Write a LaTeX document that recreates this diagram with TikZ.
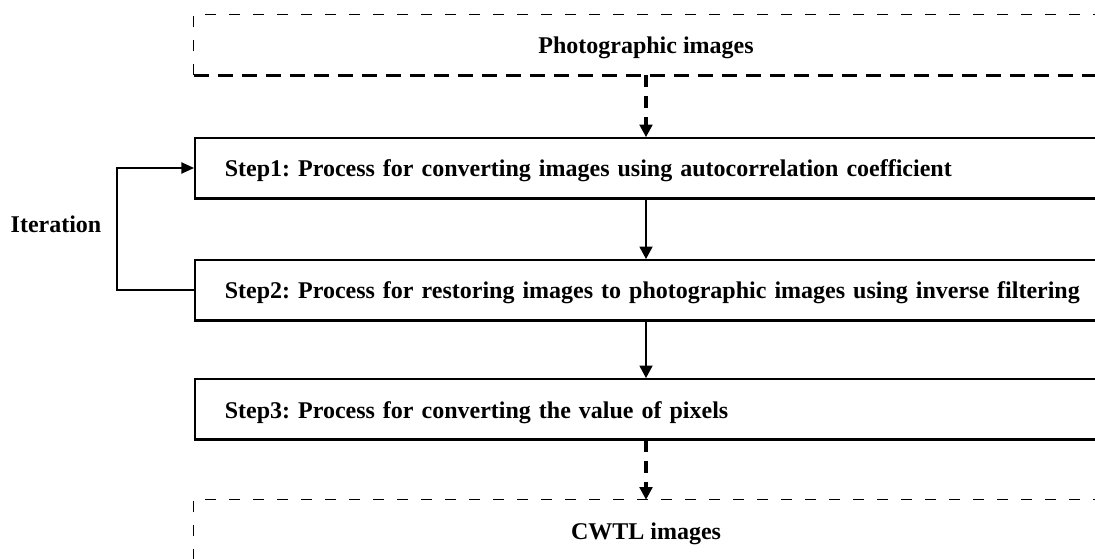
\documentclass[tikz,border=0pt]{standalone}
\usepackage{fontspec}
\setmainfont{Liberation Serif}
\usetikzlibrary{arrows.meta}
\frenchspacing
\tikzset{
  lbl/.style={font=\bfseries\fontsize{18pt}{21pt}\selectfont, inner sep=0pt},
  stepbox/.style={draw, line width=1.2pt, minimum height=45pt, anchor=west,
    text width=680pt, inner xsep=22.5pt, align=left, text height=13.5pt, text depth=0pt,
    font=\bfseries\fontsize{18pt}{21pt}\selectfont},
  ghostbox/.style={minimum width=678pt, minimum height=45pt, inner sep=0pt,
    text height=13.5pt, text depth=0pt, font=\bfseries\fontsize{18pt}{21pt}\selectfont},
  thinedge/.style={line width=1pt, dash pattern=on 8.25pt off 9.75pt},
  thickedge/.style={line width=2.25pt, dash pattern=on 11.25pt off 6.75pt},
  flow/.style={line width=2.1pt, -{Triangle[length=9.5pt,width=9.5pt]}},
  dflow/.style={line width=2.4pt, dash pattern=on 9pt off 6.75pt, -{Triangle[length=9.5pt,width=9.5pt]}},
  loop/.style={line width=1pt, -{Triangle[length=9.5pt,width=8.5pt]}}
}
\begin{document}
\begin{tikzpicture}[x=0.75pt,y=-0.75pt]
\useasboundingbox (0,0) rectangle (1095,559);
\clip (0,0) rectangle (1095,559);
% top dashed box
\node[ghostbox] (top) at (646,45) {Photographic images};
\draw[thinedge] (top.south west) -- (top.north west) -- (top.north east);
\draw[thickedge] (top.south west) -- (top.south east);
% step boxes
\node[stepbox] (s1) at (194,168) {Step1: Process for converting images using autocorrelation coefficient};
\draw[line width=2.25pt] (s1.south west) -- (s1.south east);
\node[stepbox] (s2) at (194,290) {Step2: Process for restoring images to photographic images using inverse filtering};
\draw[line width=2.25pt] (s2.south west) -- (s2.south east);
\node[stepbox] (s3) at (194,409) {Step3: Process for converting the value of pixels};
\draw[line width=2.25pt] (s3.south west) -- (s3.south east);
% bottom dashed box
\node[ghostbox] (bot) at (646,530) {CWTL images};
\draw[thinedge] (bot.south west) -- (bot.north west) -- (bot.north east);
% connectors
\draw[dflow] (top.south) -- (s1.north -| top.south);
\draw[flow] (s1.south -| top.south) -- (s2.north -| top.south);
\draw[flow] (s2.south -| top.south) -- (s3.north -| top.south);
\draw[dflow] (s3.south -| top.south) -- (bot.north);
% iteration loop
\coordinate (lx) at (117,0);
\draw[loop] (s2.west) -- (s2.west -| lx) -- (s1.west -| lx) -- (s1.west);
\node[lbl] (it) at (56,224) {Iteration};
\end{tikzpicture}
\end{document}
